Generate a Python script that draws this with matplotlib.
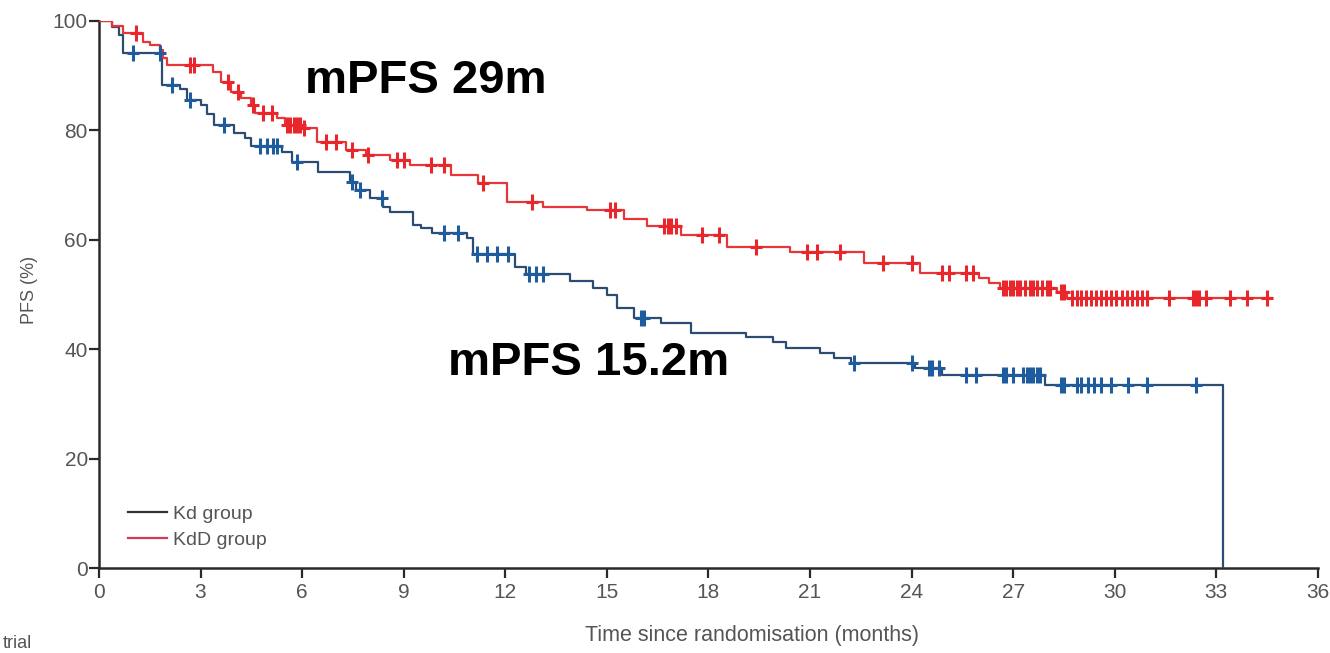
import numpy as np
import matplotlib
matplotlib.use("Agg")
import matplotlib.pyplot as plt
from matplotlib.lines import Line2D

# ---------------- data ----------------
kd_event_times = [0.4, 0.6, 0.7, 1.86, 2.4, 2.6, 3.0, 3.2, 3.4, 4.0, 4.3, 4.5, 5.4, 5.7,
                  6.47, 7.4, 7.6, 8.0, 8.4, 8.6, 9.27, 9.5, 9.83, 10.87, 11.05, 12.3, 12.6,
                  13.9, 14.6, 15.0, 15.3, 15.8, 16.6, 17.5, 19.1, 19.9, 20.3, 21.3, 21.7,
                  22.2, 24.1, 24.9, 27.94, 33.2]
kd_levels = [98.8, 97.5, 94.1, 88.3, 87.5, 85.6, 84.6, 83.0, 81.0, 79.5, 78.6, 77.2, 76.0, 74.2,
             72.4, 70.6, 69.1, 67.6, 66.0, 65.1, 62.7, 62.2, 61.2, 60.3, 57.4, 55.0, 53.7,
             52.4, 51.2, 49.9, 47.5, 45.7, 44.8, 43.0, 42.2, 41.3, 40.2, 39.3, 38.4,
             37.5, 36.6, 35.3, 33.5, 0.0]
kd_censor = [1.0, 1.8, 2.15, 2.7, 3.7, 4.75, 4.96, 5.14, 5.25, 5.85, 7.47, 7.7, 8.36, 10.2,
             10.6, 11.16, 11.46, 11.75, 12.08, 12.7, 12.9, 13.1, 16.0, 16.1, 22.3, 24.0,
             24.5, 24.6, 24.8, 25.6, 25.9, 26.7, 26.8, 27.0, 27.3, 27.4, 27.5, 27.6, 27.7,
             27.8, 28.4, 28.5, 28.9, 29.0, 29.2, 29.4, 29.6, 29.9, 30.4, 30.95, 32.4]

kdd_event_times = [0.4, 0.7, 1.3, 1.5, 1.8, 1.9, 2.0, 3.37, 3.6, 3.9, 4.2, 4.5, 4.6, 5.25,
                   5.5, 6.0, 6.45, 7.3, 7.9, 8.6, 9.2, 10.4, 11.2, 12.05, 13.1, 14.4, 15.5,
                   16.2, 17.2, 18.55, 20.4, 22.6, 24.25, 26.0, 26.3, 26.6, 28.3, 28.6]
kdd_levels = [99.0, 97.8, 96.2, 95.6, 94.7, 93.2, 92.0, 90.7, 88.8, 87.0, 85.9, 84.6, 83.2, 82.3,
              81.0, 80.4, 77.9, 76.4, 75.5, 74.6, 73.7, 71.8, 70.4, 66.9, 66.0, 65.4, 63.8,
              62.5, 60.9, 58.7, 57.7, 55.8, 54.0, 53.0, 52.1, 51.2, 50.5, 49.4]
kdd_censor = [1.1, 2.7, 2.8, 3.8, 4.1, 4.55, 4.85, 5.1, 5.55, 5.65, 5.75, 5.85, 5.95, 6.05,
              6.7, 7.0, 7.47, 7.95, 8.8, 9.0, 9.8, 10.2, 11.35, 12.8, 15.1, 15.25, 16.7,
              16.8, 16.9, 17.05, 17.8, 18.3, 19.4, 20.9, 21.2, 21.9, 23.15, 24.0, 24.9,
              25.1, 25.6, 25.8, 26.7, 26.8, 26.9, 27.0, 27.1, 27.2, 27.35, 27.5, 27.6, 27.7,
              27.85, 28.0, 28.1, 28.4, 28.5, 28.75, 28.9, 29.0, 29.15, 29.3, 29.45, 29.6,
              29.75, 29.9, 30.05, 30.2, 30.35, 30.5, 30.65, 30.8, 30.95, 31.6, 32.3, 32.4,
              32.5, 32.7, 33.4, 33.9, 34.5]

x_ticks = [0, 3, 6, 9, 12, 15, 18, 21, 24, 27, 30, 33, 36]
y_ticks = [0, 20, 40, 60, 80, 100]
legend_labels = ["Kd group", "KdD group"]
annot_kd = "mPFS 15.2m"
annot_kdd = "mPFS 29m"

# ---------------- styling ----------------
BLUE_LINE = "#2c4c72"
BLUE_MARK = "#1f5c9e"
RED_LINE = "#e5363a"
RED_MARK = "#e8262c"
TXT = "#555555"
SPINE = "#2a2a2a"

plt.rcParams['font.family'] = ['Liberation Sans Narrow', 'Liberation Sans', 'DejaVu Sans']

fig = plt.figure(figsize=(13.3, 6.53), dpi=100)
ax = fig.add_axes([0.0744, 0.130, 0.9165, 0.838])


def draw_km(times, levels, censor, end, lc, mc):
    x = np.array([0.0] + list(times) + ([end] if end is not None else []))
    y = np.array([100.0] + list(levels) + ([levels[-1]] if end is not None else []))
    ax.step(x, y, where='post', color=lc, lw=1.6, zorder=3)
    xs = np.array([0.0] + list(times))
    ys = np.array([100.0] + list(levels))
    c = np.array(censor)
    idx = np.searchsorted(xs, c, side='right') - 1
    ax.plot(c, ys[idx], linestyle='none', marker='|', markersize=12, mew=2.2,
            color=mc, zorder=4)
    ax.plot(c, ys[idx], linestyle='none', marker='_', markersize=8, mew=2.2,
            color=mc, zorder=4)


draw_km(kd_event_times, kd_levels, kd_censor, None, BLUE_LINE, BLUE_MARK)
draw_km(kdd_event_times, kdd_levels, kdd_censor, 34.65, RED_LINE, RED_MARK)

ax.set_xlim(0, 36)
ax.set_ylim(0, 100)
ax.set_xticks(x_ticks)
ax.set_yticks(y_ticks)
ax.set_xticklabels([str(t) for t in x_ticks])
ax.set_yticklabels([str(t) for t in y_ticks])
for s in ['top', 'right']:
    ax.spines[s].set_visible(False)
for s in ['left', 'bottom']:
    ax.spines[s].set_color(SPINE)
    ax.spines[s].set_linewidth(1.8)
ax.tick_params(axis='both', direction='out', length=7, width=1.6, color=SPINE,
               labelsize=15, labelcolor=TXT)
ax.tick_params(axis='x', pad=4)
ax.tick_params(axis='y', pad=1)

fig.text(752 / 1330, 1 - 636 / 653, "Time since randomisation (months)", ha='center',
         va='center', fontsize=15.5, color=TXT)
fig.text(30 / 1330, 1 - 290 / 653, "PFS (%)", ha='center', va='center', rotation=90,
         fontsize=13, color=TXT)
fig.text(0.002, 0.002, "trial", ha='left', va='bottom', fontsize=13, color=TXT)

handles = [Line2D([0], [0], color='#333333', lw=1.6),
           Line2D([0], [0], color='#d23a5a', lw=1.6)]
ax.legend(handles, legend_labels, loc='lower left', bbox_to_anchor=(0.024, 0.035),
          frameon=False, fontsize=14, handlelength=2.0, handletextpad=0.3,
          labelspacing=0.45, borderaxespad=0, borderpad=0, labelcolor=TXT)

ax.text(6.08, 86.8, annot_kdd, fontsize=34, fontweight='bold', color='black',
        family=['Liberation Sans', 'DejaVu Sans'], ha='left', va='baseline')
ax.text(10.3, 35.3, annot_kd, fontsize=34, fontweight='bold', color='black',
        family=['Liberation Sans', 'DejaVu Sans'], ha='left', va='baseline')

fig.savefig("out.png", dpi=100)
